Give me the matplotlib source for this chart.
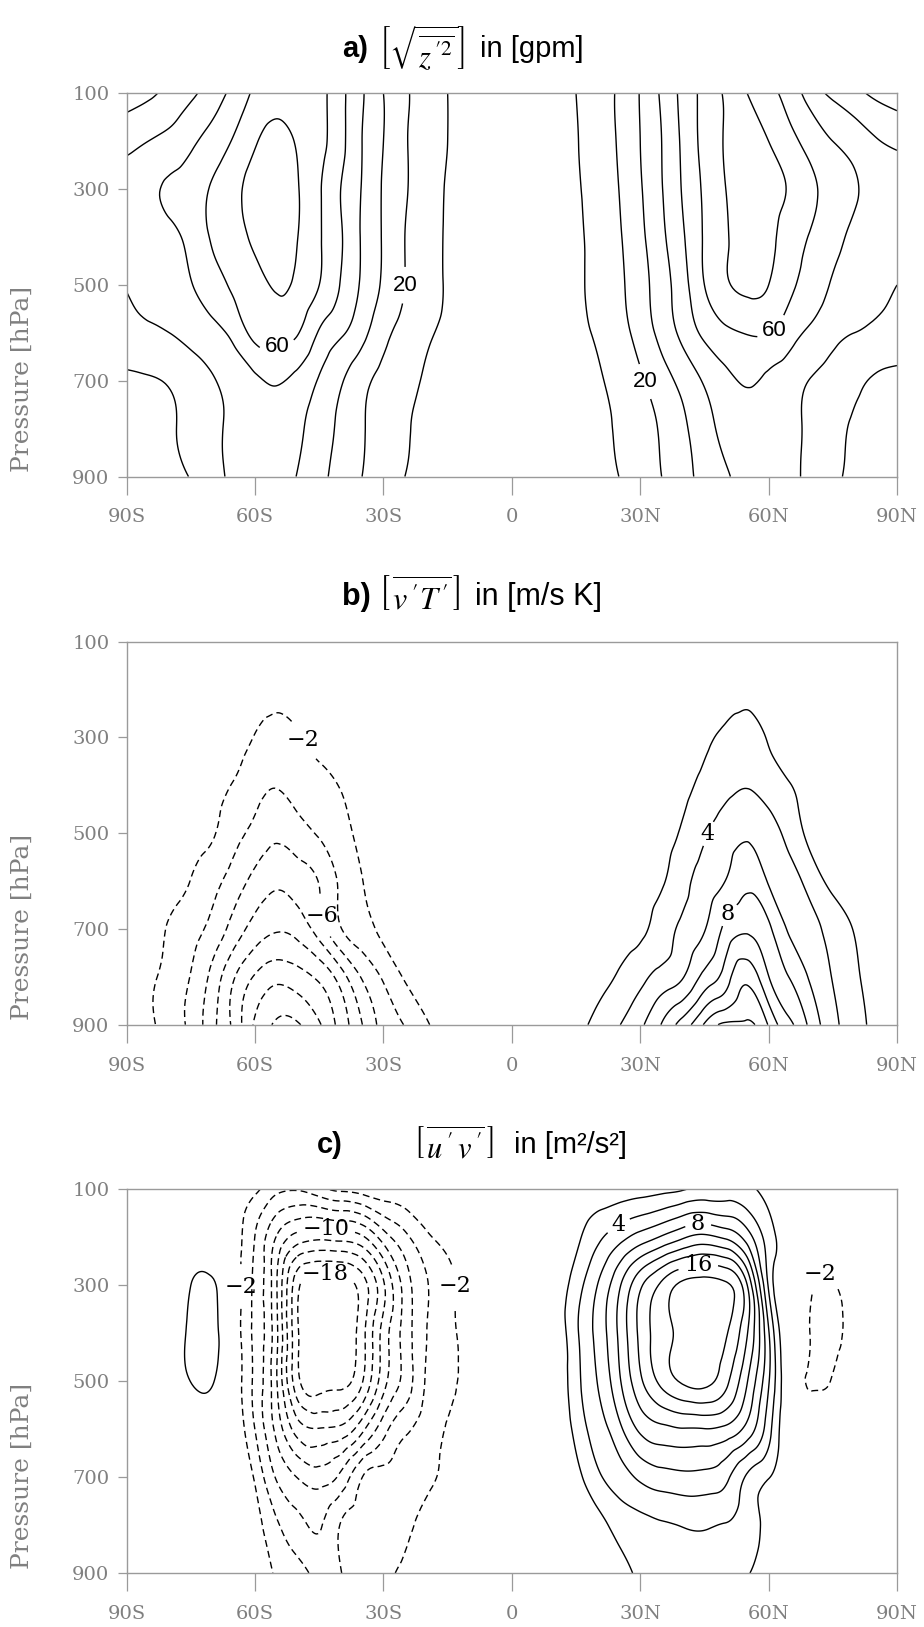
import numpy as np
import matplotlib
matplotlib.use("Agg")
import matplotlib.pyplot as plt
import matplotlib.tri as mtri

plt.rcParams['mathtext.fontset'] = 'stix'

# grid of the zonal-mean cross sections
lats = list(range(-90, 91, 5))
plevs = [100, 200, 300, 400, 500, 600, 700, 800, 900]

lat_ticks = [-90, -60, -30, 0, 30, 60, 90]
lat_labels = ['90S', '60S', '30S', '0', '30N', '60N', '90N']
p_ticks = [100, 300, 500, 700, 900]

# a) rms geopotential height deviation [gpm], rows = pressure levels
z_rms = [
    [25, 28, 33, 38, 45, 53, 62, 67, 67, 63, 53, 41, 30, 21.5, 15, 10, 6, 4, 3,
     4, 6, 10, 15, 21.5, 30.5, 41.5, 53, 63, 71, 70, 63, 56, 45, 38, 33, 28, 25],
    [37, 40, 43, 48, 54, 61, 69, 73, 69, 63, 53, 40, 30, 21, 15, 10, 6.5, 4.5, 3.5,
     4.5, 6.5, 9.5, 14.5, 21, 30, 40, 52, 63, 71, 75, 70, 63, 56, 50, 46, 41, 38],
    [45, 47.5, 51.5, 55, 61, 67, 74, 76, 70.5, 61, 50, 39.5, 29, 21, 14.5, 9.2, 6, 4.5, 3.5,
     4.5, 6.5, 9, 14, 20, 29, 39.5, 51, 61.5, 70, 76, 74, 69, 62, 56, 51, 47, 45],
    [45, 46, 48, 53, 61, 66, 72, 74, 70, 61, 51, 39, 29, 20, 14, 9, 6, 4.5, 3.5,
     4.5, 6, 8.5, 13, 19, 27.5, 38, 49, 61, 69, 75, 73, 65, 59, 53, 48, 45, 44],
    [40.5, 43, 46, 49.5, 56, 61.5, 67, 71, 68, 60, 49.5, 38.5, 28.5, 20, 14, 9, 6, 4.5, 3.5,
     4.5, 6, 8.5, 12.5, 18, 26, 35.5, 46.5, 60, 69, 72, 70, 62, 55.5, 49, 45, 42, 40],
    [37, 38.5, 40, 43, 47, 53, 63, 63.5, 60.5, 49, 41.5, 33, 23, 16.5, 11.5, 8, 5.5, 4, 3,
     4, 5.5, 8, 11, 16, 24, 33, 43, 52, 58, 60.5, 60.5, 54, 48, 43, 40, 38, 36.5],
    [28, 29, 31, 35, 39, 44, 48, 51, 47, 39, 31, 23, 17, 12.5, 9, 6, 4.5, 3.5, 3,
     3.5, 4.5, 6.5, 9, 13, 18.5, 26, 33, 41, 47, 51, 48, 44, 39.5, 36, 32, 29, 27.5],
    [25, 27, 29, 33, 38, 42, 45, 46, 42, 35, 28, 21, 15.5, 11, 8, 5.5, 4, 3.5, 3,
     3.5, 4.5, 6, 8.5, 11, 16, 21, 28, 36.5, 42, 45, 45, 42, 38, 33, 29, 27, 25],
    [23, 25, 27.5, 30.5, 37, 41.5, 44, 44, 39.5, 33, 26, 20, 15, 10, 7.5, 5, 4, 3.5, 3,
     3.5, 4, 5.5, 7.5, 10, 14, 20, 27, 33, 39, 43, 44, 42, 37.5, 32, 28, 25, 23],
]

# b) eddy heat flux [m/s K]
vt_flux = [
    [0] * 37,
    [0, 0, 0, 0, -0.2, -0.5, -0.8, -1.2, -0.9, -0.5, -0.2, 0, 0, 0, 0, 0, 0, 0, 0,
     0, 0, 0, 0, 0, 0, 0, 0, 0.2, 0.6, 1.3, 0.8, 0.3, 0, 0, 0, 0, 0],
    [0, 0, -0.1, -0.3, -0.7, -1.3, -2.1, -2.8, -2.2, -1.3, -0.8, -0.4, -0.1, 0, 0, 0, 0, 0, 0,
     0, 0, 0, 0, 0, 0.1, 0.4, 0.8, 1.6, 2.5, 3.0, 1.8, 1.0, 0.4, 0.1, 0, 0, 0],
    [0, 0, -0.2, -0.6, -1.3, -2.1, -3.2, -3.9, -3.2, -2.6, -1.9, -1.2, -0.6, -0.2, 0, 0, 0, 0, 0,
     0, 0, 0, 0, 0, 0.2, 0.6, 1.4, 2.5, 3.4, 3.9, 3.0, 2.05, 1.1, 0.5, 0.2, 0, 0],
    [0, -0.2, -0.6, -1.2, -1.8, -3.3, -4.6, -5.6, -4.8, -3.8, -2.7, -1.5, -0.8, -0.3, 0, 0, 0, 0, 0,
     0, 0, 0, 0, 0.2, 0.6, 1.3, 2.3, 3.8, 5.0, 5.7, 4.9, 3.2, 1.5, 0.8, 0.3, 0, 0],
    [-0.2, -0.4, -1.0, -2.05, -3.3, -4.9, -6.6, -7.6, -7.0, -5.9, -3.6, -2.05, -1.1, -0.5, -0.2, 0, 0, 0, 0,
     0, 0, 0, 0.2, 0.5, 1.1, 1.8, 3.3, 4.9, 6.05, 7.5, 5.8, 4.6, 3.1, 1.5, 0.8, 0.3, 0],
    [-0.5, -1.2, -2.2, -3.3, -4.6, -6.8, -8.8, -9.8, -9.2, -7.0, -4.1, -2.8, -1.4, -0.6, -0.2, 0, 0, 0, 0,
     0, 0, 0.2, 0.5, 1.1, 1.6, 2.9, 4.5, 5.9, 8.6, 9.7, 8.4, 5.6, 4.5, 3.2, 1.9, 0.8, 0.3],
    [-0.8, -1.6, -2.6, -4.1, -6.6, -9.8, -12.2, -13.4, -12.8, -11.6, -9.0, -5.8, -3.7, -1.8, -0.8, -0.3, 0, 0, 0,
     0, 0, 0.5, 1.3, 2.2, 3.4, 4.7, 5.9, 8.6, 11.0, 13.4, 10.05, 7.9, 5.6, 3.9, 2.4, 1.1, 0.4],
    [-0.8, -1.6, -2.9, -4.5, -7.4, -10.5, -14.3, -16.3, -16.2, -14.2, -11.2, -8.05, -5.3, -3.9, -2.2, -1.2, -0.5, -0.1, 0,
     0, 0.4, 1.3, 2.6, 3.9, 5.6, 8.1, 10.9, 14.2, 16.4, 16.3, 13.8, 10.4, 7.3, 4.6, 2.8, 1.5, 0.6],
]

# c) eddy momentum flux [m2/s2]
uv_flux = [
    [0, 0, 0, 0, 0, -0.3, -1.5, -3.5, -3.8, -2.6, -1.5, -1.0, -0.6, -0.4, -0.2, 0, 0, 0, 0,
     0, 0, 0.2, 0.5, 0.8, 1.1, 1.4, 1.8, 2.4, 2.7, 2.4, 1.2, 0.2, 0, 0, 0, 0, 0],
    [0, 0, 0.2, 0.5, 0.6, -0.8, -4.05, -8.1, -10.8, -11.5, -11.2, -10.3, -7.0, -4.5, -2.4, -1.4, -0.6, -0.2, 0,
     0, 0.2, 1.5, 3.5, 5.2, 6.8, 8.2, 9.7, 10.5, 9.6, 7.0, 3.0, 0.5, -0.5, -0.6, -0.2, 0, 0],
    [0, 0.2, 0.7, 2.0, 2.2, -0.4, -4.5, -9.8, -17.5, -19.2, -19.1, -17.0, -12.3, -7.2, -4.2, -2.5, -1.2, -0.4, 0,
     0, 0.6, 3.0, 6.0, 9.6, 13.6, 16.4, 18.5, 18.9, 18.3, 14.0, 3.7, -0.2, -1.8, -2.2, -0.6, 0, 0],
    [0, 0.3, 0.9, 2.4, 2.6, -0.5, -4.5, -9.5, -17.8, -19.2, -19.1, -16.8, -11.2, -7.2, -4.05, -2.6, -1.2, -0.4, 0,
     0, 0.5, 3.6, 6.6, 10.3, 14.5, 17.1, 18.6, 19.0, 18.2, 14.1, 6.2, -0.4, -2.1, -2.6, -1.0, -0.2, 0],
    [0, 0.3, 0.8, 2.05, 2.15, -0.5, -4.5, -9.8, -17.5, -18.9, -18.6, -16.2, -10.8, -7.3, -3.8, -2.5, -1.2, -0.4, 0,
     0, 0.4, 3.3, 6.05, 9.6, 13.6, 16.6, 18.3, 18.6, 16.6, 12.1, 6.2, -0.3, -2.1, -1.9, -0.6, 0, 0],
    [0, 0, 0.2, 0.4, 0.5, -0.6, -4.05, -8.6, -13.0, -13.9, -13.5, -10.6, -6.8, -4.4, -3.0, -1.9, -1.0, -0.3, 0,
     0, 0.3, 2.6, 5.0, 7.4, 10.4, 11.5, 11.9, 11.95, 11.5, 9.3, 4.8, -0.1, -1.2, -0.8, -0.2, 0, 0],
    [0, 0, 0, 0, 0, -0.3, -2.3, -6.2, -8.1, -9.0, -7.5, -4.05, -3.2, -2.8, -2.3, -1.6, -0.8, -0.3, 0,
     0, 0.1, 1.3, 3.6, 5.0, 6.4, 7.2, 7.5, 7.4, 6.5, 3.7, 2.1, 0.2, -0.4, -0.2, 0, 0, 0],
    [0, 0, 0, 0, 0, -0.1, -1.2, -3.7, -5.3, -6.2, -3.9, -3.0, -2.7, -2.3, -1.7, -1.1, -0.5, -0.2, 0,
     0, 0, 0.2, 1.2, 2.7, 3.4, 3.8, 4.1, 4.2, 3.9, 3.0, 1.4, 0.2, 0, 0, 0, 0, 0],
    [0, 0, 0, 0, 0, 0, -0.7, -2.3, -3.5, -4.6, -4.1, -3.0, -2.4, -1.6, -1.0, -0.6, -0.3, 0, 0,
     0, 0, 0, 0.5, 1.3, 2.3, 2.9, 3.2, 3.2, 2.8, 2.1, 1.0, 0.2, 0, 0, 0, 0, 0],
]

rms_levels = [10, 20, 30, 40, 50, 60, 70]
vt_levels = [-16, -14, -12, -10, -8, -6, -4, -2, 2, 4, 6, 8, 10, 12, 14, 16]
uv_levels = [-20, -18, -16, -14, -12, -10, -8, -6, -4, -2,
             2, 4, 6, 8, 10, 12, 14, 16, 18, 20]


def smooth_field(values, subdiv=4):
    """Triangulate the lat/p grid in index space and refine with a cubic interpolant."""
    z = np.asarray(values, dtype=float).ravel()
    nx, ny = len(lats), len(plevs)
    ix, iy = np.meshgrid(np.arange(nx), np.arange(ny))
    idx = iy * nx + ix
    a = idx[:-1, :-1].ravel()
    b = idx[:-1, 1:].ravel()
    c = idx[1:, 1:].ravel()
    d = idx[1:, :-1].ravel()
    tris = np.vstack([np.column_stack([a, b, c]), np.column_stack([a, c, d])])
    grid = mtri.Triangulation(ix.ravel().astype(float), iy.ravel().astype(float), tris)
    interp = mtri.CubicTriInterpolator(grid, z, kind='min_E')
    fine, zf = mtri.UniformTriRefiner(grid).refine_field(z, interp, subdiv=subdiv)
    lat_f = np.interp(fine.x, np.arange(nx), lats)
    p_f = np.interp(fine.y, np.arange(ny), plevs)
    return mtri.Triangulation(lat_f, p_f, fine.triangles), zf


def fmt_label(v):
    return ('%d' % v).replace('-', '\u2212')


def contour_set(ax, tri, zf, levels):
    styles = [(0, (5, 3)) if lv < 0 else 'solid' for lv in levels]
    return ax.tricontour(tri, zf, levels=levels, colors='black',
                         linewidths=1.0, linestyles=styles)


def draw_panel(ax, values, levels, label_levels, label_pos, label_font):
    ax.set_xlim(-90, 90)
    ax.set_ylim(900, 100)
    tri, zf = smooth_field(values)
    plain = [lv for lv in levels if lv not in label_levels]
    contour_set(ax, tri, zf, plain)
    cs = contour_set(ax, tri, zf, sorted(label_levels))
    with plt.rc_context({'font.family': label_font}):
        texts = ax.clabel(cs, manual=label_pos, inline=True,
                          inline_spacing=6, fontsize=16, fmt=fmt_label)
    for t in texts:
        t.set_rotation(0)

    grey = '#9a9a9a'
    for sp in ax.spines.values():
        sp.set_color(grey)
        sp.set_linewidth(1.0)
    ax.set_xticks(lat_ticks)
    ax.set_xticklabels(lat_labels)
    ax.set_yticks(p_ticks)
    ax.tick_params(axis='x', length=13, width=0.9, color=grey, pad=10)
    ax.tick_params(axis='y', length=6.5, width=0.9, color=grey, pad=6)
    for t in ax.get_xticklabels() + ax.get_yticklabels():
        t.set_fontfamily('DejaVu Serif')
        t.set_fontsize(14)
        t.set_color('#808080')
    ax.text(-0.135, 0.254, 'Pressure [hPa]', transform=ax.transAxes,
            rotation=90, ha='center', va='center', fontsize=18,
            family='DejaVu Serif', color='#808080')


fig = plt.figure(figsize=(9.24, 16.27), dpi=100)
left, width, height = 0.1371, 0.8337, 0.2355
ax_a = fig.add_axes([left, 0.7071, width, height])
ax_b = fig.add_axes([left, 0.3702, width, height])
ax_c = fig.add_axes([left, 0.0332, width, 0.2360])

draw_panel(ax_a, z_rms, rms_levels, [20, 60],
           [(-26.5, 500), (-55.3, 618), (31, 702), (60.7, 590)], 'Liberation Sans')
draw_panel(ax_b, vt_flux, vt_levels, [-6, -2, 4, 8],
           [(-47.9, 302), (-43.2, 671), (46.1, 502), (49.1, 662)], 'DejaVu Serif')
draw_panel(ax_c, uv_flux, uv_levels, [-18, -10, -2, 4, 8, 16],
           [(-62.3, 303), (-43.6, 192), (-43.6, 281), (-14, 303),
            (26, 192), (43.5, 172), (43.5, 258), (72.6, 286)], 'DejaVu Serif')

# panel titles: bold letter, bracketed zonal-mean quantity, units
sans = 'Liberation Sans'
fig.text(0.370, 0.970, 'a)', fontsize=21, fontweight='bold', family=sans, va='center')
fig.text(0.410, 0.970, r'$\left[\sqrt{\overline{z^{\,\prime 2}}}\right]$', fontsize=22, va='center')
fig.text(0.519, 0.970, 'in [gpm]', fontsize=21, family=sans, va='center')

fig.text(0.370, 0.633, 'b)', fontsize=22, fontweight='bold', family=sans, va='center')
fig.text(0.409, 0.633, r"$\left[\,\overline{v\,'T\,'}\,\right]$", fontsize=23, va='center')
fig.text(0.514, 0.633, 'in [m/s K]', fontsize=22, family=sans, va='center')

fig.text(0.343, 0.296, 'c)', fontsize=21, fontweight='bold', family=sans, va='center')
fig.text(0.447, 0.296, r"$\left[\,\overline{u\,'\,v\,'}\,\right]$", fontsize=22, va='center')
fig.text(0.556, 0.296, 'in [m\u00b2/s\u00b2]', fontsize=21, family=sans, va='center')

fig.savefig('out.png', dpi=100)
